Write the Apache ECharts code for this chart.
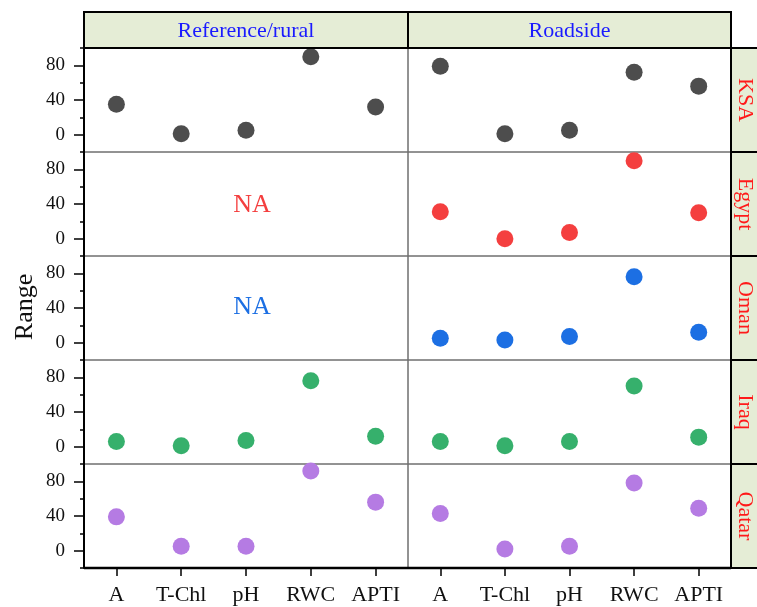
<!DOCTYPE html>
<html>
<head>
<meta charset="utf-8">
<script src="https://cdn.jsdelivr.net/npm/echarts@6/dist/echarts.min.js"></script>
<style>
  html, body { margin: 0; padding: 0; background: #fff; }
  #main { width: 757px; height: 607px; }
</style>
</head>
<body>
<div id="main"></div>
<script>
// 类别与数据
var categories = ['A', 'T-Chl', 'pH', 'RWC', 'APTI'];
var columns = ['Reference/rural', 'Roadside'];
var countries = ['KSA', 'Egypt', 'Oman', 'Iraq', 'Qatar'];
var colors = ['#4d4d4d', '#f43f3f', '#1c6fe3', '#36b06c', '#b57be3'];
var yTicks = [0, 40, 80];

var ksaRef = [35, 1, 5, 90, 32];
var ksaRoad = [79, 1, 5, 72, 56];
var egyptRef = null; // NA
var egyptRoad = [31, 0, 7, 90, 30];
var omanRef = null; // NA
var omanRoad = [5, 3, 7, 76, 12];
var iraqRef = [6, 1, 7, 76, 12];
var iraqRoad = [6, 1, 6, 70, 11];
var qatarRef = [39, 5, 5, 92, 56];
var qatarRoad = [43, 2, 5, 78, 49];

var rows = [
    [ksaRef, ksaRoad],
    [egyptRef, egyptRoad],
    [omanRef, omanRoad],
    [iraqRef, iraqRoad],
    [qatarRef, qatarRoad]
];

var myChart = echarts.init(document.getElementById('main'));
var font = 'Liberation Serif';

var left = 84, mid = 408, right = 731;
var top0 = 48, rowH = 104;
var bottom = top0 + rowH * 5;

var grids = [], xAxes = [], yAxes = [], series = [];
for (var r = 0; r < 5; r++) {
    for (var c = 0; c < 2; c++) {
        var gi = grids.length;
        var isBottom = (r == 4);
        grids.push({
            left: c == 0 ? left : mid,
            top: top0 + r * rowH,
            width: c == 0 ? mid - left : right - mid,
            height: rowH,
            show: true,
            borderColor: '#6e6e6e',
            borderWidth: 1
        });
        xAxes.push({
            type: 'category',
            gridIndex: gi,
            position: 'bottom',
            data: categories,
            axisLine: { show: false, onZero: false },
            axisTick: { show: isBottom, alignWithLabel: true, interval: 0, length: 8, inside: false,
                lineStyle: { color: '#000', width: 1.5 } },
            axisLabel: { show: isBottom, interval: 0, hideOverlap: false, color: '#111',
                fontFamily: font, fontSize: 22, margin: 16 },
            splitLine: { show: false }
        });
        var ya = yAxes.length;
        // 全部20间隔的短刻度 + 0/40/80标签
        yAxes.push({
            type: 'value',
            gridIndex: gi,
            position: 'left',
            min: -20, max: 100, interval: 20,
            show: c == 0,
            axisLine: { show: c == 0, onZero: false, lineStyle: { color: '#000', width: 2 } },
            axisTick: { show: true, length: 4, inside: false,
                lineStyle: { color: '#000', width: 1.5 } },
            axisLabel: { show: true, customValues: yTicks, color: '#111',
                fontFamily: font, fontSize: 19, margin: 19 },
            splitLine: { show: false }
        });
        // 0/40/80处的长刻度
        if (c == 0) {
            yAxes.push({
                type: 'value',
                gridIndex: gi,
                position: 'left',
                min: -20, max: 100, interval: 20,
                axisLine: { show: false, onZero: false },
                axisTick: { show: true, customValues: yTicks, length: 10, inside: false,
                    lineStyle: { color: '#000', width: 1.5 } },
                axisLabel: { show: false },
                splitLine: { show: false }
            });
        }
        var d = rows[r][c];
        if (d) {
            series.push({
                name: countries[r] + ' ' + columns[c],
                type: 'scatter',
                xAxisIndex: gi,
                yAxisIndex: ya,
                symbolSize: 17,
                itemStyle: { color: colors[r], opacity: 1 },
                data: d
            });
        }
    }
}

var headerFill = '#e5edd6';
var graphics = [];
// 顶部标题栏
graphics.push({ type: 'rect', shape: { x: left, y: 12, width: right - left, height: top0 - 12 },
    style: { fill: headerFill, stroke: '#000', lineWidth: 2 }, z: 10 });
graphics.push({ type: 'line', shape: { x1: mid, y1: 12, x2: mid, y2: top0 },
    style: { stroke: '#000', lineWidth: 2 }, z: 11 });
for (var c = 0; c < 2; c++) {
    graphics.push({ type: 'text', x: c == 0 ? (left + mid) / 2 : (mid + right) / 2, y: 31,
        style: { text: columns[c], fill: '#1a1aff', font: '22px "' + font + '"',
            textAlign: 'center', textVerticalAlign: 'middle' }, z: 12 });
}
// 右侧国家栏
graphics.push({ type: 'rect', shape: { x: right, y: top0, width: 40, height: bottom - top0 },
    style: { fill: headerFill, stroke: '#000', lineWidth: 2 }, z: 10 });
for (var r = 0; r < 5; r++) {
    if (r > 0) {
        graphics.push({ type: 'line', shape: { x1: right, y1: top0 + r * rowH, x2: 760, y2: top0 + r * rowH },
            style: { stroke: '#000', lineWidth: 2 }, z: 11 });
    }
    graphics.push({ type: 'text', x: 745, y: top0 + r * rowH + rowH / 2, rotation: -Math.PI / 2,
        style: { text: countries[r], fill: '#ff1a1a', font: '22px "' + font + '"',
            textAlign: 'center', textVerticalAlign: 'middle' }, z: 12 });
}
// 外框粗线
graphics.push({ type: 'line', shape: { x1: left, y1: bottom, x2: right, y2: bottom },
    style: { stroke: '#000', lineWidth: 2.5 }, z: 11 });
graphics.push({ type: 'line', shape: { x1: right, y1: top0, x2: right, y2: bottom },
    style: { stroke: '#000', lineWidth: 2 }, z: 11 });
// NA
graphics.push({ type: 'text', x: 252, y: 205,
    style: { text: 'NA', fill: colors[1], font: '26px "' + font + '"',
        textAlign: 'center', textVerticalAlign: 'middle' }, z: 12 });
graphics.push({ type: 'text', x: 252, y: 307,
    style: { text: 'NA', fill: colors[2], font: '26px "' + font + '"',
        textAlign: 'center', textVerticalAlign: 'middle' }, z: 12 });
// Y轴标题
graphics.push({ type: 'text', x: 25, y: 307, rotation: Math.PI / 2,
    style: { text: 'Range', fill: '#111', font: '26px "' + font + '"',
        textAlign: 'center', textVerticalAlign: 'middle' }, z: 12 });

var option = {
    backgroundColor: '#fff',
    animation: false,
    grid: grids,
    xAxis: xAxes,
    yAxis: yAxes,
    series: series,
    graphic: graphics
};
myChart.setOption(option);
</script>
</body>
</html>
